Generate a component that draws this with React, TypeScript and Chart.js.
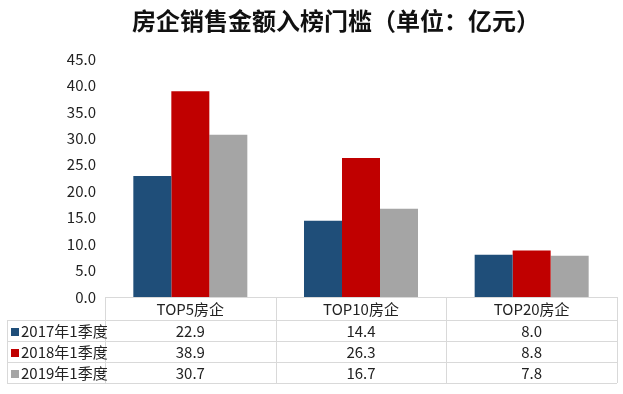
import React, { useEffect, useRef } from "react";
import { Chart, registerables } from "chart.js";

Chart.register(...registerables);

const TITLE = "房企销售金额入榜门槛（单位：亿元）";
const categories = ["TOP5房企", "TOP10房企", "TOP20房企"];
const seriesNames = ["2017年1季度", "2018年1季度", "2019年1季度"];
const values2017 = [22.9, 14.4, 8.0];
const values2018 = [38.9, 26.3, 8.8];
const values2019 = [30.7, 16.7, 7.8];
const seriesColors = ["#1F4E79", "#C00000", "#A5A5A5"];

const FONT = "'Noto Sans CJK SC', 'Liberation Sans', sans-serif";

const tablePlugin = {
  id: "dataTable",
  afterDraw(chart: any) {
    const ctx = chart.ctx as CanvasRenderingContext2D;
    const area = chart.chartArea;
    const xs = chart.scales.x;
    const top = area.bottom;
    const headerH = 23;
    const rowH = 21;
    const leftEdge = 7;
    const n = categories.length;
    const colW = (area.right - area.left) / n;
    const bottom = top + headerH + rowH * seriesNames.length;

    ctx.save();
    // title
    ctx.fillStyle = "#111111";
    ctx.font = `bold 24px ${FONT}`;
    ctx.textAlign = "center";
    ctx.textBaseline = "middle";
    ctx.fillText(TITLE, 336, 21);

    // grid lines
    ctx.strokeStyle = "#D9D9D9";
    ctx.lineWidth = 1;
    ctx.beginPath();
    ctx.moveTo(area.left, top + 0.5);
    ctx.lineTo(area.right, top + 0.5);
    for (let r = 0; r <= seriesNames.length; r++) {
      const y = Math.round(top + headerH + r * rowH) + 0.5;
      ctx.moveTo(leftEdge, y);
      ctx.lineTo(area.right, y);
    }
    ctx.moveTo(leftEdge + 0.5, top + headerH);
    ctx.lineTo(leftEdge + 0.5, bottom);
    for (let c = 0; c <= n; c++) {
      const x = Math.round(area.left + c * colW) + 0.5;
      ctx.moveTo(x, top);
      ctx.lineTo(x, bottom);
    }
    ctx.stroke();

    // header text
    ctx.fillStyle = "#222222";
    ctx.font = `15px ${FONT}`;
    ctx.textAlign = "center";
    ctx.textBaseline = "middle";
    categories.forEach((cat, i) => {
      ctx.fillText(cat, xs.getPixelForValue(i), top + headerH / 2 + 1);
    });

    // rows
    const allValues = [values2017, values2018, values2019];
    seriesNames.forEach((name, r) => {
      const yMid = top + headerH + r * rowH + rowH / 2 + 1;
      ctx.fillStyle = seriesColors[r];
      ctx.fillRect(11, Math.round(yMid - 4), 8, 8);
      ctx.fillStyle = "#222222";
      ctx.textAlign = "left";
      ctx.fillText(name, 21, yMid);
      ctx.textAlign = "center";
      allValues[r].forEach((v, i) => {
        ctx.fillText(v.toFixed(1), xs.getPixelForValue(i), yMid);
      });
    });
    ctx.restore();
  },
};

export default function App() {
  const ref = useRef<HTMLCanvasElement | null>(null);
  useEffect(() => {
    if (!ref.current) return;
    const chart = new Chart(ref.current, {
      type: "bar",
      data: {
        labels: categories,
        datasets: [
          { label: seriesNames[0], data: values2017, backgroundColor: seriesColors[0] },
          { label: seriesNames[1], data: values2018, backgroundColor: seriesColors[1] },
          { label: seriesNames[2], data: values2019, backgroundColor: seriesColors[2] },
        ],
      },
      options: {
        animation: false,
        responsive: false,
        maintainAspectRatio: false,
        layout: { padding: { top: 59, bottom: 97, left: 0, right: 6 } },
        datasets: { bar: { barPercentage: 1.0, categoryPercentage: 0.668 } },
        plugins: {
          legend: { display: false },
          title: { display: false },
          tooltip: { enabled: false },
        },
        scales: {
          x: { display: false },
          y: {
            min: 0,
            max: 45,
            afterFit: (scale: any) => {
              scale.width = 105;
            },
            ticks: {
              stepSize: 5,
              padding: 9,
              color: "#222222",
              font: { family: FONT, size: 15 },
              callback: (v: any) => Number(v).toFixed(1),
            },
            grid: { display: false, drawTicks: false },
            border: { display: false },
          },
        },
      },
      plugins: [tablePlugin],
    });
    return () => chart.destroy();
  }, []);
  return (
    <div style={{ position: "fixed", left: 0, top: 0, width: 623, height: 394, background: "#fff" }}>
      <canvas ref={ref} width={623} height={394} style={{ width: 623, height: 394 }} />
    </div>
  );
}
